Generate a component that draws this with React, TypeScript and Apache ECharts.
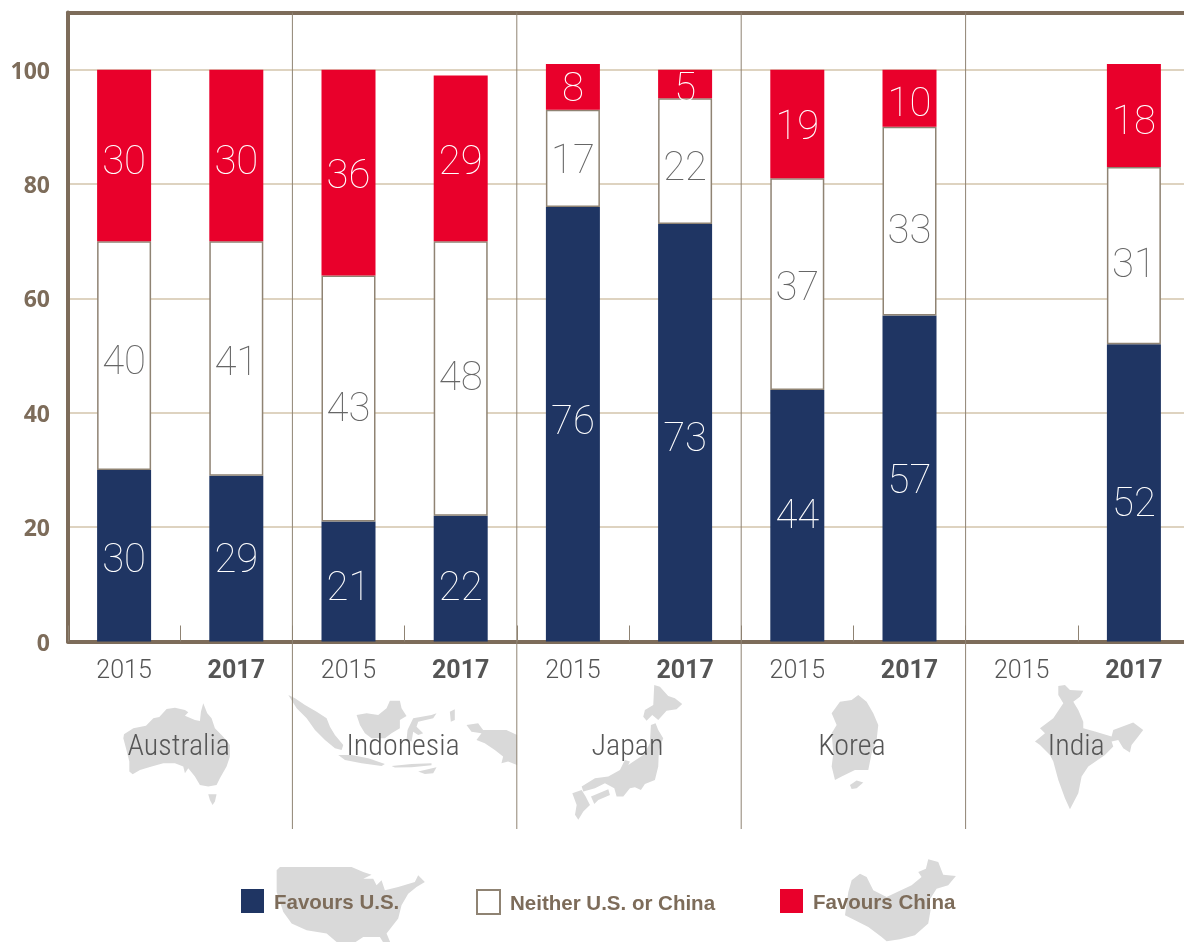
import React, { useEffect, useRef } from "react";
import * as echarts from "echarts";

const years = ["2015", "2017", "2015", "2017", "2015", "2017", "2015", "2017", "2015", "2017"];
const countries = ["Australia", "Indonesia", "Japan", "Korea", "India"];
const favoursUS = [30, 29, 21, 22, 76, 73, 44, 57, null, 52];
const neither = [40, 41, 43, 48, 17, 22, 37, 33, null, 31];
const favoursChina = [30, 30, 36, 29, 8, 5, 19, 10, null, 18];
const yTicksMax = 110;

// vertical nudges of the value labels, in pixels from the middle of each segment
const nudgeUS = [3, 0, 5, 8, -4, 5, -1, 1, 0, 10];
const nudgeNeither = [5, 3, 9, -2, 1, 5, 2, 8, 0, 8];
const nudgeChina = [5, 5, 2, 2, 1, 4, 1, 4, 0, 5];

const BROWN = "#7d6c5a";
const RULE = "#8f8373";
const GRID = "#d3c5ab";
const NAVY = "#1f3563";
const RED = "#e9002b";
const MAP = "#d9d9d9";
const TEXT = "#555555";

const GRID_LEFT = 68;
const GRID_TOP = 12.5;
const GRID_BOTTOM_Y = 641.5;
const BAND = 112.2;

type Shape = { x: number; y: number; polys: number[][][] };

const silhouettes: Shape[] = [
  { x: 120, y: 695, polys: [
    [[12,118],[40,100],[78,92],[100,70],[118,66],[140,42],[165,38],[195,45],[205,52],[195,62],[225,75],[240,78],[243,50],[250,25],[262,55],[275,70],[285,100],[310,125],[330,150],[330,185],[320,215],[300,250],[290,270],[265,275],[240,270],[225,245],[205,220],[195,235],[190,215],[165,205],[130,205],[95,215],[60,225],[38,238],[28,230],[28,200],[18,160],[10,130]],
    [[265,298],[290,298],[285,320],[278,330],[270,315]],
  ]},
  { x: 285, y: 690, polys: [
    [[10,15],[30,25],[60,45],[95,65],[125,85],[135,110],[150,135],[175,165],[170,180],[150,175],[120,150],[90,120],[65,85],[35,55]],
    [[215,75],[245,70],[280,75],[305,55],[315,32],[345,32],[350,55],[365,78],[345,90],[345,115],[320,130],[300,145],[260,145],[240,130],[225,105]],
    [[160,195],[200,195],[250,205],[300,222],[290,228],[230,220],[180,210]],
    [[320,228],[380,222],[440,220],[440,226],[380,232],[330,233]],
    [[385,85],[440,75],[455,70],[445,85],[400,95],[395,110],[415,130],[400,135],[385,125],[380,155],[365,150],[368,120]],
    [[545,105],[580,100],[595,120],[640,120],[665,120],[697,135],[697,225],[670,215],[650,220],[655,200],[630,180],[600,160],[575,150],[590,130],[560,125]],
    [[495,65],[510,58],[510,90],[498,95]],
    [[400,245],[455,232],[445,250],[420,252]],
  ]},
  { x: 565, y: 680, polys: [
    [[268,15],[285,20],[310,48],[330,55],[352,72],[335,88],[305,92],[280,120],[262,105],[245,122],[235,110],[240,90],[265,75]],
    [[258,135],[272,130],[280,150],[295,175],[282,210],[280,260],[270,300],[240,312],[228,330],[210,322],[195,325],[175,350],[155,350],[148,325],[120,310],[90,325],[55,335],[50,320],[90,295],[130,290],[165,270],[180,240],[195,245],[190,255],[235,225],[255,190]],
    [[78,350],[130,328],[135,345],[100,360],[88,372]],
    [[22,340],[50,330],[62,350],[75,375],[55,395],[40,420],[30,405],[35,375]],
  ]},
  { x: 815, y: 690, polys: [
    [[130,15],[155,35],[175,70],[190,105],[185,150],[170,190],[160,240],[120,240],[80,260],[60,270],[50,230],[55,190],[50,130],[65,105],[50,70],[75,35],[110,30]],
    [[105,285],[125,272],[145,278],[125,295],[110,297]],
  ]},
  { x: 1030, y: 680, polys: [
    [[85,18],[105,15],[120,30],[160,32],[150,50],[130,65],[145,90],[160,125],[160,145],[195,155],[245,170],[250,150],[290,135],[310,128],[340,150],[325,170],[305,195],[300,218],[280,205],[265,180],[245,185],[250,200],[225,225],[175,260],[155,290],[145,340],[120,388],[105,355],[85,300],[70,245],[60,225],[30,195],[15,185],[45,160],[30,145],[70,115],[100,70],[85,45]],
  ]},
  { x: 270, y: 862, polys: [
    [[20,25],[30,15],[150,15],[245,15],[280,30],[305,38],[280,50],[310,50],[320,70],[335,55],[345,85],[385,75],[435,60],[445,40],[465,60],[440,75],[415,95],[395,130],[385,170],[350,215],[365,250],[345,250],[330,225],[280,225],[250,245],[200,240],[170,215],[110,205],[65,185],[40,150],[20,90]],
  ]},
  { x: 840, y: 852, polys: [
    [[60,65],[80,75],[100,115],[140,135],[215,100],[245,75],[235,60],[258,50],[265,22],[295,30],[310,68],[348,72],[325,100],[290,110],[265,150],[272,175],[265,215],[225,250],[180,262],[140,268],[125,255],[85,225],[45,205],[15,190],[25,120],[35,85]],
  ]},
];

const LABEL_FONT = "Roboto";

function barSeries(name: string, data: (number | null)[], nudge: number[], fill: string, labelColor: string, border?: string) {
  return {
    name,
    type: "bar",
    stack: "total",
    barWidth: 54,
    data: data.map((value, i) => ({ value, label: { offset: [0, nudge[i]] } })),
    itemStyle: border ? { color: fill, borderColor: border, borderWidth: 1.5 } : { color: fill },
    label: {
      show: true,
      position: "inside",
      color: labelColor,
      fontFamily: LABEL_FONT,
      fontWeight: 100,
      fontSize: 40,
    },
  };
}

export default function App() {
  const ref = useRef<HTMLDivElement>(null);
  useEffect(() => {
    const chart = echarts.init(ref.current!, undefined, { renderer: "svg" });
    const graphic: any[] = [];
    silhouettes.forEach((s) =>
      s.polys.forEach((points) =>
        graphic.push({
          type: "polygon",
          x: s.x,
          y: s.y,
          scaleX: 1 / 3,
          scaleY: 1 / 3,
          silent: true,
          z: 0,
          shape: { points },
          style: { fill: MAP },
        })
      )
    );
    [1, 2, 3, 4].forEach((k) =>
      graphic.push({
        type: "line",
        silent: true,
        z: 10,
        shape: { x1: GRID_LEFT + BAND * 2 * k, y1: GRID_TOP, x2: GRID_LEFT + BAND * 2 * k, y2: 829 },
        style: { stroke: RULE, lineWidth: 1 },
      })
    );
    countries.forEach((name, k) =>
      graphic.push({
        type: "text",
        silent: true,
        z: 11,
        x: GRID_LEFT + BAND * (2 * k + 1) - 1.5,
        y: 744,
        style: {
          text: name,
          fill: TEXT,
          font: `300 30px "Roboto Condensed", "Liberation Sans Narrow", Roboto`,
          align: "center",
          verticalAlign: "middle",
        },
      })
    );
    const legendBase = {
      orient: "horizontal",
      padding: 0,
      itemWidth: 23,
      itemHeight: 24,
      itemGap: 0,
      top: 889,
      selectedMode: false,
      textStyle: { color: BROWN, fontFamily: "Liberation Sans", fontWeight: "bold", fontSize: 20.5, padding: [0, 0, 0, 5] },
    };
    const frameLine = { show: true, onZero: false, lineStyle: { color: BROWN, width: 4 } };
    chart.setOption({
      animation: false,
      grid: {
        left: GRID_LEFT,
        top: GRID_TOP,
        width: BAND * years.length,
        height: GRID_BOTTOM_Y - GRID_TOP,
        outerBoundsMode: "none",
        containLabel: false,
      },
      legend: [
        { ...legendBase, left: 241, data: [{ name: "Favours U.S.", icon: "rect" }] },
        { ...legendBase, left: 476, data: [{ name: "Neither U.S. or China", icon: "rect" }] },
        { ...legendBase, left: 780, data: [{ name: "Favours China", icon: "rect" }] },
      ],
      xAxis: [
        {
          type: "category",
          position: "bottom",
          data: years.map((y) => ({ value: y, textStyle: { fontWeight: y === "2017" ? "bold" : 300 } })),
          axisLine: frameLine,
          axisTick: { show: true, inside: true, length: 16, interval: 0, lineStyle: { color: RULE, width: 1 } },
          axisLabel: { interval: 0, margin: 15, color: TEXT, fontFamily: "Roboto", fontSize: 25 },
          splitLine: { show: false },
        },
        {
          type: "category",
          position: "top",
          data: years,
          axisLine: frameLine,
          axisTick: { show: false },
          axisLabel: { show: false },
          splitLine: { show: false },
        },
      ],
      yAxis: {
        type: "value",
        min: 0,
        max: yTicksMax,
        interval: 20,
        axisLine: frameLine,
        axisTick: { show: false },
        axisLabel: { showMaxLabel: false, margin: 18, color: BROWN, fontFamily: "Noto Sans", fontWeight: "bold", fontSize: 23 },
        splitLine: { show: true, lineStyle: { color: GRID, width: 1.5 } },
      },
      series: [
        barSeries("Favours U.S.", favoursUS, nudgeUS, NAVY, "#ffffff"),
        barSeries("Neither U.S. or China", neither, nudgeNeither, "#ffffff", "#666666", RULE),
        barSeries("Favours China", favoursChina, nudgeChina, RED, "#ffffff"),
      ],
      graphic,
    });
    return () => chart.dispose();
  }, []);
  return <div ref={ref} style={{ position: "fixed", left: 0, top: 0, width: 1184, height: 942 }} />;
}
